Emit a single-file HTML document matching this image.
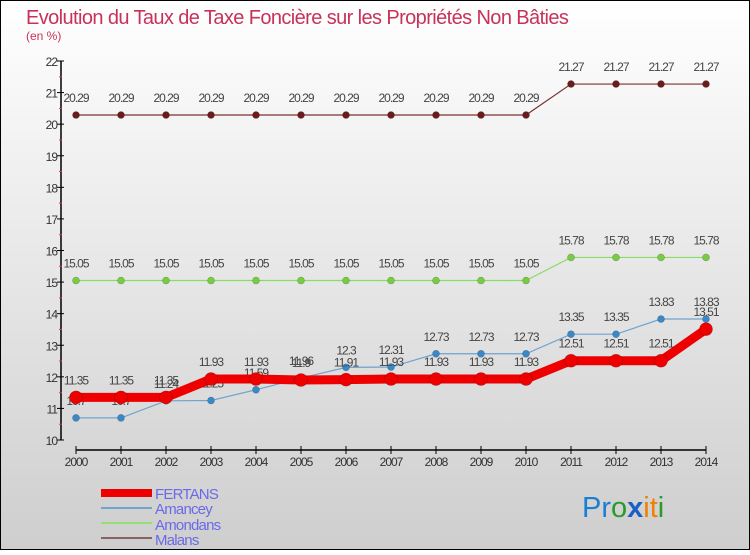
<!DOCTYPE html>
<html><head><meta charset="utf-8"><style>
html,body{margin:0;padding:0}
body{width:750px;height:550px;overflow:hidden;font-family:"Liberation Sans",sans-serif}
</style></head><body>
<svg id="chart" width="750" height="550" xmlns="http://www.w3.org/2000/svg">
<defs><linearGradient id="bg" x1="0" y1="0" x2="0" y2="1"><stop offset="0" stop-color="#ffffff"/><stop offset="1" stop-color="#cecece"/></linearGradient></defs>
<rect x="0.5" y="0.5" width="749" height="549" fill="url(#bg)" stroke="#000" stroke-width="1"/>
<text x="26" y="24" font-size="20" fill="#c8325a" letter-spacing="-0.6">Evolution du Taux de Taxe Foncière sur les Propriétés Non Bâties</text>
<text x="26" y="40" font-size="12" fill="#c8325a">(en %)</text>
<g id="axes"></g><g id="series"></g>
<g>
<rect x="101" y="489" width="51" height="8" fill="#e00"/>
<text x="155" y="499" font-size="15" fill="#6a6ae8" letter-spacing="-0.8">FERTANS</text>
<rect x="101" y="507" width="51" height="2" fill="#6fa3d0"/>
<text x="155" y="514" font-size="15" fill="#6a6ae8" letter-spacing="-0.8">Amancey</text>
<rect x="101" y="522" width="51" height="2" fill="#99dd77"/>
<text x="155" y="530" font-size="15" fill="#6a6ae8" letter-spacing="-0.8">Amondans</text>
<rect x="101" y="537" width="51" height="2" fill="#8b6060"/>
<text x="155" y="545" font-size="15" fill="#6a6ae8" letter-spacing="-0.8">Malans</text>
</g>
<text x="582" y="517" font-size="29"><tspan fill="#1a7fd4">Pr</tspan><tspan fill="#2a9a2a">o</tspan><tspan fill="#1a5fc4" font-weight="bold">x</tspan><tspan fill="#f08000">i</tspan><tspan fill="#f08000">t</tspan><tspan fill="#2a9a2a">i</tspan></text>
</svg>
<script>
const years=["2000","2001","2002","2003","2004","2005","2006","2007","2008","2009","2010","2011","2012","2013","2014"];
const yTicks=[10,11,12,13,14,15,16,17,18,19,20,21,22];
const fertans=[11.35,11.35,11.35,11.93,11.93,11.9,11.91,11.93,11.93,11.93,11.93,12.51,12.51,12.51,13.51];
const amancey=[10.7,10.7,11.24,11.25,11.59,11.96,12.3,12.31,12.73,12.73,12.73,13.35,13.35,13.83,13.83];
const amondans=[15.05,15.05,15.05,15.05,15.05,15.05,15.05,15.05,15.05,15.05,15.05,15.78,15.78,15.78,15.78];
const malans=[20.29,20.29,20.29,20.29,20.29,20.29,20.29,20.29,20.29,20.29,20.29,21.27,21.27,21.27,21.27];
const NS="http://www.w3.org/2000/svg";
const X=i=>76+i*45;
const Y=v=>440-(v-10)*(379/12);
function mk(tag,attrs,parent){const e=document.createElementNS(NS,tag);for(const k in attrs)e.setAttribute(k,attrs[k]);parent.appendChild(e);return e;}
const ax=document.getElementById('axes');
let yl=mk('line',{x1:61,y1:Y(22),x2:61,y2:Y(10),stroke:'#000','stroke-width':1.5},ax);


yTicks.forEach(t=>{
  mk('line',{x1:57,y1:Y(t),x2:64,y2:Y(t),stroke:'#000'},ax);
  if(t<22)mk('line',{x1:59,y1:Y(t+0.5),x2:62,y2:Y(t+0.5),stroke:'#e33'},ax);
  const tx=mk('text',{x:57,y:Y(t)+5,'font-size':12,fill:'#333','text-anchor':'end','letter-spacing':-1},ax);
  tx.textContent=t;
  
  
});
let xl=mk('line',{x1:X(0),y1:450,x2:X(years.length-1),y2:450,stroke:'#000','stroke-width':1.5},ax);


years.forEach((y,i)=>{
  mk('line',{x1:X(i),y1:446,x2:X(i),y2:454,stroke:'#000'},ax);
  const tx=mk('text',{x:X(i),y:466,'font-size':12,fill:'#333','text-anchor':'middle','letter-spacing':-1},ax);
  tx.textContent=y;
  
  
});
const sg=document.getElementById('series');
function draw(name,vals,color,dot,w,r){
  const g=mk('g',{},sg);
  
  
  mk('polyline',{points:vals.map((v,i)=>X(i)+','+Y(v)).join(' '),fill:'none',stroke:color,'stroke-width':w},g);
  vals.forEach((v,i)=>{
    const c=mk('circle',{cx:X(i),cy:Y(v),r:r,fill:dot,stroke:'rgba(0,0,0,0.25)','stroke-width':0.6},g);
    
    
    const t=mk('text',{x:X(i),y:Y(v)-13,'font-size':12,fill:'#444','text-anchor':'middle','letter-spacing':-1},g);
    t.textContent=String(v);
    
    
  });
}
draw('malans',malans,'#7a3030','#6a1c1c',1.2,3.5);
draw('amondans',amondans,'#88dd66','#77cc44',1.2,3.5);
draw('amancey',amancey,'#6fa3d0','#3a88c8',1.2,3.5);
draw('fertans',fertans,'#ee0000','#ee0000',9,6.5);
</script>
</body></html>
